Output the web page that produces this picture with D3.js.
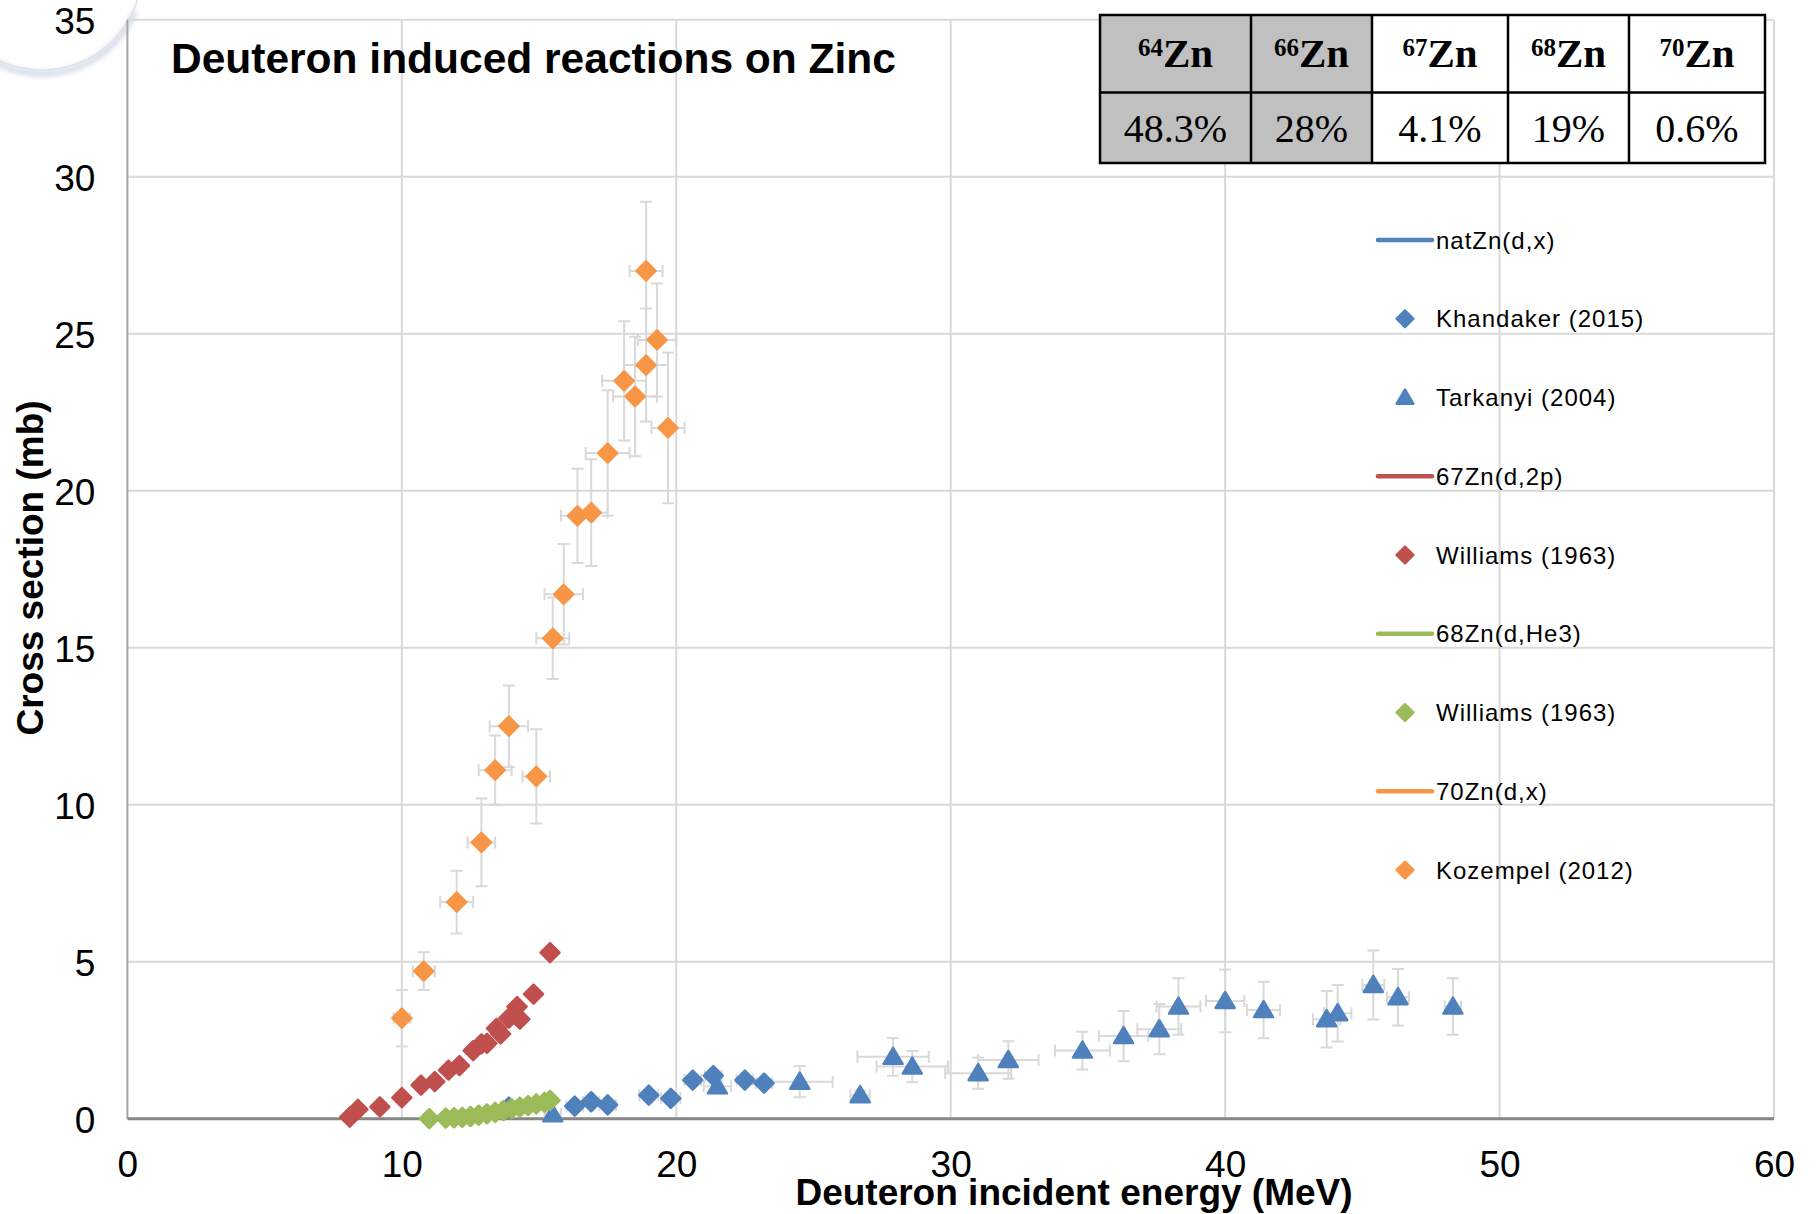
<!DOCTYPE html>
<html>
<head>
<meta charset="utf-8">
<script src="https://cdn.jsdelivr.net/npm/d3@7"></script>
<style>
  body { margin: 0; background: #fff; }
  svg { display: block; }
  text { font-family: "Liberation Sans", Arial, sans-serif; }
</style>
</head>
<body>
<svg id="chart" width="1816" height="1214"></svg>
<script>
// axis ticks
const xTicks = [0, 10, 20, 30, 40, 50, 60];
const yTicks = [0, 5, 10, 15, 20, 25, 30, 35];

// isotopic abundance table
const isotopes = ["64", "66", "67", "68", "70"];
const abundances = ["48.3%", "28%", "4.1%", "19%", "0.6%"];
const shaded = [true, true, false, false, false];

// Khandaker (2015) natZn(d,x)
const khanE = [13.9, 16.3, 16.9, 17.5, 19.0, 19.8, 20.6, 21.35, 22.5, 23.2];
const khanXS = [0.37, 0.40, 0.54, 0.44, 0.75, 0.65, 1.23, 1.37, 1.23, 1.13];
const khanEErr = [0.3, 0.3, 0.3, 0.3, 0.35, 0.35, 0.3, 0.3, 0.3, 0.3];
const khanXSErr = [0.05, 0.05, 0.06, 0.05, 0.08, 0.07, 0.12, 0.13, 0.12, 0.11];

// Tarkanyi (2004) natZn(d,x)
const tarkE = [15.5, 21.5, 24.5, 26.7, 27.9, 28.6, 31.0, 32.1, 34.8, 36.3, 37.6, 38.3, 40.0, 41.4, 43.7, 44.1, 45.4, 46.3, 48.3];
const tarkXS = [0.14, 1.03, 1.18, 0.75, 1.97, 1.66, 1.45, 1.87, 2.17, 2.63, 2.85, 3.57, 3.75, 3.46, 3.17, 3.36, 4.26, 3.87, 3.57];
const tarkEErr = [0.3, 0.5, 1.2, 0.35, 1.3, 1.3, 1.2, 1.1, 1.0, 0.9, 0.8, 0.8, 0.7, 0.6, 0.5, 0.5, 0.4, 0.4, 0.3];
const tarkXSErr = [0.05, 0.1, 0.5, 0.15, 0.6, 0.5, 0.5, 0.6, 0.6, 0.8, 0.8, 0.9, 1.0, 0.9, 0.9, 0.9, 1.1, 0.9, 0.9];

// Williams (1963) 67Zn(d,2p)
const will67E = [8.1, 8.4, 9.2, 10.0, 10.7, 11.2, 11.7, 12.1, 12.6, 12.9, 13.1, 13.45, 13.6, 13.9, 14.3, 14.2, 14.8, 15.4];
const will67XS = [0.05, 0.30, 0.38, 0.67, 1.07, 1.18, 1.55, 1.69, 2.17, 2.38, 2.40, 2.88, 2.70, 3.20, 3.17, 3.57, 3.97, 5.29];

// Williams (1963) 68Zn(d,He3)
const will68E = [11.0, 11.6, 11.9, 12.2, 12.5, 12.8, 13.1, 13.4, 13.7, 14.0, 14.3, 14.6, 14.9, 15.2, 15.4];
const will68XS = [0.0, 0.02, 0.03, 0.04, 0.07, 0.11, 0.15, 0.20, 0.26, 0.32, 0.37, 0.42, 0.47, 0.52, 0.58];

// Kozempel (2012) 70Zn(d,x)
const kozE = [10.0, 10.8, 12.0, 12.9, 13.4, 13.9, 14.9, 15.5, 15.9, 16.4, 16.9, 17.5, 18.1, 18.5, 18.9, 18.9, 19.3, 19.7];
const kozXS = [3.2, 4.7, 6.9, 8.8, 11.1, 12.5, 10.9, 15.3, 16.7, 19.2, 19.3, 21.2, 23.5, 23.0, 27.0, 24.0, 24.8, 22.0];
const kozEErr = [0.3, 0.4, 0.6, 0.5, 0.6, 0.7, 0.5, 0.6, 0.7, 0.6, 0.6, 0.8, 0.8, 0.8, 0.6, 0.8, 0.7, 0.6];
const kozXSErr = [0.9, 0.6, 1.0, 1.4, 1.1, 1.3, 1.5, 1.3, 1.6, 1.5, 1.7, 2.0, 1.9, 1.9, 2.2, 1.8, 1.8, 2.4];

// legend entries (in Excel series order)
const legendNames = ["natZn(d,x)", "Khandaker (2015)", "Tarkanyi (2004)", "67Zn(d,2p)", "Williams (1963)",
                     "68Zn(d,He3)", "Williams (1963)", "70Zn(d,x)", "Kozempel (2012)"];
const legendKinds = ["line", "diamond", "triangle", "line", "diamond", "line", "diamond", "line", "diamond"];

const BLUE = "#4f81bd", RED = "#c0504d", GREEN = "#9bbb59", ORANGE = "#f79646";
const legendColors = [BLUE, BLUE, BLUE, RED, RED, GREEN, GREEN, ORANGE, ORANGE];

const zip = (xs, ys, ex, ey) => xs.map((v, i) => ({ e: v, s: ys[i], ex: ex ? ex[i] : 0, ey: ey ? ey[i] : 0 }));

const series = [
  { pts: zip(khanE, khanXS, khanEErr, khanXSErr), color: BLUE, shape: "diamond" },
  { pts: zip(tarkE, tarkXS, tarkEErr, tarkXSErr), color: BLUE, shape: "triangle" },
  { pts: zip(will67E, will67XS), color: RED, shape: "diamond" },
  { pts: zip(will68E, will68XS), color: GREEN, shape: "diamond" },
  { pts: zip(kozE, kozXS, kozEErr, kozXSErr), color: ORANGE, shape: "diamond" }
];

const svg = d3.select("#chart");

const x = d3.scaleLinear().domain([0, 60]).range([127.4, 1774]);
const y = d3.scaleLinear().domain([0, 35]).range([1118.7, 19.7]);

// decorative slide arc in the corner
const defs = svg.append("defs");
defs.append("filter").attr("id", "soft").append("feGaussianBlur").attr("stdDeviation", 2.5);
svg.append("path")
  .attr("d", d3.arc()({ innerRadius: 100, outerRadius: 100, startAngle: Math.PI * 0.62, endAngle: Math.PI * 1.22 }))
  .attr("transform", "translate(42,-26)")
  .attr("fill", "none").attr("stroke", "#b3c3d8").attr("stroke-width", 5)
  .attr("opacity", 0.65).attr("filter", "url(#soft)");
svg.append("circle")
  .attr("cx", 42).attr("cy", -30).attr("r", 100)
  .attr("fill", "none").attr("stroke", "#dde2e8").attr("stroke-width", 1.5);

// gridlines
svg.append("g").selectAll("line").data(yTicks.filter(d => d > 0)).join("line")
  .attr("x1", x(0)).attr("x2", x(60))
  .attr("y1", d => y(d)).attr("y2", d => y(d))
  .attr("stroke", "#d9d9d9").attr("stroke-width", 2);
svg.append("g").selectAll("line").data(xTicks.filter(d => d > 0)).join("line")
  .attr("x1", d => x(d)).attr("x2", d => x(d))
  .attr("y1", y(0)).attr("y2", y(35))
  .attr("stroke", "#d9d9d9").attr("stroke-width", 2);

// axes
svg.append("line").attr("x1", x(0)).attr("x2", x(0)).attr("y1", y(0)).attr("y2", y(35))
  .attr("stroke", "#a6a6a6").attr("stroke-width", 2);
svg.append("line").attr("x1", x(0)).attr("x2", x(60)).attr("y1", y(0)).attr("y2", y(0))
  .attr("stroke", "#868686").attr("stroke-width", 3);

const xAxis = svg.append("g").attr("transform", `translate(0,${y(0)})`)
  .call(d3.axisBottom(x).tickValues(xTicks).tickSize(0).tickFormat(d3.format("d")));
xAxis.select(".domain").remove();
xAxis.selectAll("text").attr("y", 45).attr("dy", "0.36em")
  .style("font-size", "37px").attr("fill", "#000").style("font-family", "Liberation Sans, Arial, sans-serif");

const yAxis = svg.append("g").attr("transform", `translate(${x(0)},0)`)
  .call(d3.axisLeft(y).tickValues(yTicks).tickSize(0).tickFormat(d3.format("d")));
yAxis.select(".domain").remove();
yAxis.selectAll("text").attr("x", -32).attr("dy", "0.36em")
  .style("font-size", "37px").attr("fill", "#000").style("font-family", "Liberation Sans, Arial, sans-serif");

// axis titles
svg.append("text").attr("x", 1074).attr("y", 1205).attr("text-anchor", "middle")
  .style("font-size", "37px").style("font-weight", "bold")
  .text("Deuteron incident energy (MeV)");
svg.append("text").attr("transform", "translate(30,568) rotate(-90)")
  .attr("text-anchor", "middle").attr("dy", "0.36em")
  .style("font-size", "37px").style("font-weight", "bold")
  .text("Cross section (mb)");

// chart title
svg.append("text").attr("x", 171).attr("y", 73)
  .style("font-size", "42.5px").style("font-weight", "bold")
  .text("Deuteron induced reactions on Zinc");

// error bars (under all markers)
const ebar = svg.append("g").attr("stroke", "#d9d9d9").attr("stroke-width", 2).attr("fill", "none");
const cap = 6;
series.forEach(s => {
  s.pts.forEach(p => {
    if (p.ey > 0) {
      const y1 = y(Math.max(0, p.s - p.ey)), y2 = y(p.s + p.ey), cx = x(p.e);
      ebar.append("path").attr("d", `M${cx},${y1}V${y2}M${cx - cap},${y1}H${cx + cap}M${cx - cap},${y2}H${cx + cap}`);
    }
    if (p.ex > 0) {
      const x1 = x(p.e - p.ex), x2 = x(p.e + p.ex), cy = y(p.s);
      ebar.append("path").attr("d", `M${x1},${cy}H${x2}M${x1},${cy - cap}V${cy + cap}M${x2},${cy - cap}V${cy + cap}`);
    }
  });
});

// marker shapes
function shapePath(shape) {
  if (shape === "triangle") return "M0,-9L9.5,7L-9.5,7Z";
  return "M0,-9.5L9.5,0L0,9.5L-9.5,0Z";
}

series.forEach(s => {
  svg.append("g").selectAll("path").data(s.pts).join("path")
    .attr("d", shapePath(s.shape))
    .attr("transform", d => `translate(${x(d.e)},${y(d.s)})`)
    .attr("fill", s.color).attr("stroke", s.color)
    .attr("stroke-width", 2.5).attr("stroke-linejoin", "round");
});

// legend
const legend = svg.append("g");
legendNames.forEach((name, i) => {
  const ly = 240 + i * 78.75;
  const g = legend.append("g").attr("transform", `translate(0,${ly})`);
  if (legendKinds[i] === "line") {
    g.append("line").attr("x1", 1378).attr("x2", 1432).attr("y1", 0).attr("y2", 0)
      .attr("stroke", legendColors[i]).attr("stroke-width", 4.5).attr("stroke-linecap", "round");
  } else {
    g.append("path").attr("d", shapePath(legendKinds[i]))
      .attr("transform", "translate(1405,0) scale(0.9)")
      .attr("fill", legendColors[i]).attr("stroke", legendColors[i])
      .attr("stroke-width", 2.5).attr("stroke-linejoin", "round");
  }
  g.append("text").attr("x", 1436).attr("dy", "0.36em")
    .style("font-size", "24px").style("letter-spacing", "1px").attr("fill", "#000")
    .text(name);
});

// abundance table
const colEdges = [1100, 1251, 1372, 1508, 1629, 1765];
const rowEdges = [15, 92.6, 163];
const table = svg.append("g");
isotopes.forEach((iso, i) => {
  const x0 = colEdges[i], x1 = colEdges[i + 1], cx = (x0 + x1) / 2;
  table.append("rect").attr("x", x0).attr("y", rowEdges[0])
    .attr("width", x1 - x0).attr("height", rowEdges[2] - rowEdges[0])
    .attr("fill", shaded[i] ? "#c0c0c0" : "#fff");
  const t = table.append("text").attr("x", cx).attr("y", 67).attr("text-anchor", "middle")
    .style("font-family", "Liberation Serif, Times New Roman, serif").style("font-weight", "bold");
  t.append("tspan").style("font-size", "25px").attr("dy", -11).text(iso);
  t.append("tspan").style("font-size", "41px").attr("dy", 11).text("Zn");
  table.append("text").attr("x", cx).attr("y", 142).attr("text-anchor", "middle")
    .style("font-family", "Liberation Serif, Times New Roman, serif").style("font-size", "40px")
    .text(abundances[i]);
});
table.append("rect").attr("x", colEdges[0]).attr("y", rowEdges[0])
  .attr("width", colEdges[5] - colEdges[0]).attr("height", rowEdges[2] - rowEdges[0])
  .attr("fill", "none").attr("stroke", "#000").attr("stroke-width", 2.5);
table.append("g").selectAll("line").data(colEdges.slice(1, 5)).join("line")
  .attr("x1", d => d).attr("x2", d => d).attr("y1", rowEdges[0]).attr("y2", rowEdges[2])
  .attr("stroke", "#000").attr("stroke-width", 2.5);
table.append("line").attr("x1", colEdges[0]).attr("x2", colEdges[5])
  .attr("y1", rowEdges[1]).attr("y2", rowEdges[1])
  .attr("stroke", "#000").attr("stroke-width", 2.5);
</script>
</body>
</html>
